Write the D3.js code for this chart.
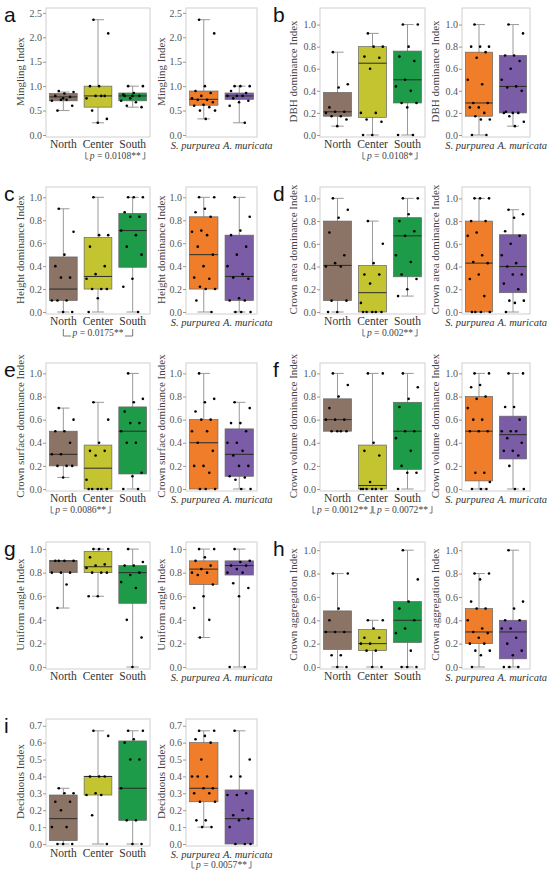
<!DOCTYPE html>
<html>
<head>
<meta charset="utf-8">
<script src="https://cdn.jsdelivr.net/npm/d3@7"></script>
<style>
  html, body { margin: 0; padding: 0; background: #fff; }
  svg { display: block; }
  .tick-lab { font-family: "Liberation Serif", serif; font-size: 10px; fill: #555; }
  .x-lab { font-family: "Liberation Serif", serif; font-size: 11.5px; fill: #333; }
  .y-lab { font-family: "Liberation Serif", serif; font-size: 11px; fill: #444; }
  .p-lab { font-family: "Liberation Serif", serif; font-size: 9.6px; fill: #444; }
  .letter { font-family: "Liberation Sans", sans-serif; font-size: 21px; fill: #111; }
</style>
</head>
<body>
<svg id="chart" width="550" height="873" font-family="Liberation Serif, serif"></svg>
<script>
// ---- data ----
const regions = ['North', 'Center', 'South'];
const species = ['S. purpurea', 'A. muricata'];
const letters = ['a', 'b', 'c', 'd', 'e', 'f', 'g', 'h', 'i'];
const indexNames = ['Mingling Index', 'DBH dominance Index', 'Height dominance Index',
  'Crown area dominance Index', 'Crown surface dominance Index', 'Crown volume dominance Index',
  'Uniform angle Index', 'Crown aggregation Index', 'Deciduous Index'];
const yTops = [2.6, 1.15, 1.09, 1.1, 1.09, 1.09, 1.06, 1.07, 0.74];
const ticksMingling = [0, 0.5, 1.0, 1.5, 2.0, 2.5];
const ticksUnit = [0, 0.2, 0.4, 0.6, 0.8, 1.0];
const ticksDeciduous = [0, 0.1, 0.2, 0.3, 0.4, 0.5, 0.6, 0.7];

// box stats per group: [whisker low, q1, median, q3, whisker high]; North, Center, South, S. purpurea, A. muricata
const minglingStats = [[0.5, 0.7, 0.78, 0.85, 0.88], [0.25, 0.57, 0.8, 1.0, 2.36], [0.57, 0.7, 0.8, 0.86, 1.0], [0.33, 0.61, 0.73, 0.9, 2.36], [0.25, 0.73, 0.8, 0.86, 1.0]];
const dbhStats = [[0.08, 0.17, 0.21, 0.385, 0.75], [0, 0.16, 0.65, 0.8, 0.92], [0, 0.29, 0.5, 0.76, 1.0], [0, 0.17, 0.29, 0.75, 1.0], [0.08, 0.2, 0.44, 0.72, 1.0]];
const heightStats = [[0, 0.1, 0.2, 0.48, 0.9], [0, 0.2, 0.31, 0.65, 1.0], [0, 0.39, 0.71, 0.86, 1.0], [0, 0.2, 0.5, 0.83, 1.0], [0, 0.1, 0.31, 0.67, 1.0]];
const areaStats = [[0, 0.1, 0.41, 0.8, 1.0], [0, 0, 0.17, 0.41, 0.8], [0.14, 0.31, 0.67, 0.83, 1.0], [0, 0, 0.43, 0.8, 1.0], [0, 0.17, 0.4, 0.68, 0.9]];
const surfaceStats = [[0.1, 0.2, 0.3, 0.5, 0.7], [0, 0, 0.18, 0.38, 0.75], [0, 0.13, 0.5, 0.71, 1.0], [0, 0, 0.4, 0.6, 1.0], [0, 0.11, 0.3, 0.52, 0.75]];
const volumeStats = [[0.5, 0.5, 0.6, 0.78, 1.0], [0, 0, 0.03, 0.38, 1.0], [0, 0.17, 0.5, 0.75, 1.0], [0, 0.07, 0.5, 0.8, 1.0], [0, 0.26, 0.47, 0.63, 1.0]];
const angleStats = [[0.5, 0.8, 0.9, 0.9, 0.9], [0.6, 0.8, 0.85, 0.98, 1.0], [0, 0.54, 0.8, 0.86, 1.0], [0.25, 0.7, 0.83, 0.9, 1.0], [0, 0.78, 0.86, 0.9, 1.0]];
const aggregationStats = [[0, 0.15, 0.3, 0.48, 0.8], [0, 0.14, 0.2, 0.32, 0.4], [0, 0.21, 0.4, 0.56, 1.0], [0, 0.2, 0.3, 0.5, 0.8], [0, 0.07, 0.3, 0.4, 1.0]];
const deciduousStats = [[0, 0.02, 0.15, 0.29, 0.33], [0, 0.29, 0.4, 0.4, 0.67], [0, 0.14, 0.33, 0.61, 0.67], [0.1, 0.25, 0.33, 0.6, 0.67], [0, 0, 0.15, 0.32, 0.67]];

// sampled plot values per group
const minglingPts = [
  [0.9, 0.88, 0.85, 0.8, 0.78, 0.72, 0.7, 0.72, 0.5, 0.6, 0.75],
  [2.36, 2.08, 1.0, 1.0, 0.8, 0.8, 0.75, 0.8, 0.5, 0.33, 0.25],
  [1.0, 1.0, 0.86, 0.8, 0.8, 0.75, 0.7, 0.67, 0.6, 0.57, 0.8, 0.83],
  [2.36, 2.08, 1.0, 0.9, 0.86, 0.8, 0.75, 0.72, 0.72, 0.67, 0.62, 0.6, 0.57, 0.5, 0.5, 0.33],
  [1.0, 1.0, 1.0, 0.9, 0.86, 0.8, 0.8, 0.8, 0.75, 0.7, 0.67, 0.6, 0.25]];
const dbhPts = [
  [0.75, 0.46, 0.43, 0.25, 0.21, 0.21, 0.2, 0.17, 0.17, 0.14, 0.08],
  [0.92, 0.8, 0.8, 0.71, 0.7, 0.6, 0.2, 0.2, 0.14, 0.12, 0, 0],
  [1.0, 1.0, 0.8, 0.71, 0.67, 0.5, 0.44, 0.4, 0.29, 0.29, 0.25, 0, 0],
  [1.0, 0.8, 0.8, 0.8, 0.75, 0.7, 0.5, 0.46, 0.29, 0.29, 0.25, 0.25, 0.2, 0.17, 0.14, 0.14, 0, 0],
  [1.0, 0.92, 0.72, 0.72, 0.67, 0.6, 0.5, 0.44, 0.43, 0.4, 0.2, 0.2, 0.2, 0.17, 0.12, 0.08, 0.21]];
const heightPts = [
  [0.9, 0.7, 0.5, 0.4, 0.3, 0.3, 0.1, 0.1, 0.1, 0, 0],
  [1.0, 0.67, 0.67, 0.57, 0.4, 0.33, 0.29, 0.2, 0.2, 0.2, 0.12, 0],
  [1.0, 1.0, 1.0, 0.87, 0.83, 0.83, 0.71, 0.67, 0.57, 0.5, 0.29, 0.22, 0],
  [1.0, 1.0, 0.9, 0.87, 0.83, 0.71, 0.7, 0.67, 0.57, 0.5, 0.4, 0.3, 0.29, 0.22, 0.2, 0.2, 0.1, 0],
  [1.0, 0.83, 0.71, 0.67, 0.57, 0.5, 0.4, 0.33, 0.3, 0.29, 0.12, 0.1, 0.1, 0, 0, 0]];
const areaPts = [
  [1.0, 0.9, 0.83, 0.7, 0.5, 0.43, 0.4, 0.4, 0.1, 0.1, 0, 0],
  [0.8, 0.6, 0.43, 0.33, 0.33, 0.25, 0.08, 0, 0, 0, 0, 0],
  [1.0, 1.0, 0.86, 0.8, 0.71, 0.67, 0.5, 0.44, 0.33, 0.29, 0.2, 0.14],
  [1.0, 1.0, 1.0, 0.8, 0.8, 0.7, 0.67, 0.5, 0.44, 0.43, 0.33, 0.29, 0.14, 0, 0, 0, 0],
  [0.9, 0.86, 0.83, 0.71, 0.67, 0.6, 0.5, 0.43, 0.4, 0.33, 0.33, 0.25, 0.2, 0.1, 0.1, 0.08, 0]];
const surfacePts = [
  [0.7, 0.6, 0.5, 0.5, 0.4, 0.3, 0.3, 0.2, 0.2, 0.2, 0.1],
  [0.75, 0.6, 0.4, 0.33, 0.33, 0.29, 0.08, 0, 0, 0, 0, 0],
  [1.0, 0.78, 0.75, 0.67, 0.57, 0.57, 0.5, 0.4, 0.4, 0.14, 0.11, 0, 0],
  [1.0, 0.78, 0.75, 0.67, 0.6, 0.6, 0.5, 0.5, 0.4, 0.33, 0.2, 0.2, 0.14, 0, 0, 0],
  [0.75, 0.7, 0.57, 0.57, 0.5, 0.4, 0.4, 0.33, 0.29, 0.2, 0.2, 0.11, 0.1, 0.08, 0, 0]];
const volumePts = [
  [1.0, 0.9, 0.8, 0.7, 0.6, 0.6, 0.6, 0.5, 0.5, 0.5, 0.5],
  [1.0, 1.0, 0.4, 0.33, 0.29, 0.06, 0, 0, 0, 0, 0, 0],
  [1.0, 0.88, 0.78, 0.71, 0.5, 0.5, 0.44, 0.33, 0.2, 0.14, 0.14, 0],
  [1.0, 1.0, 0.9, 0.88, 0.8, 0.78, 0.7, 0.6, 0.6, 0.5, 0.5, 0.5, 0.14, 0.14, 0.06, 0, 0, 0],
  [1.0, 1.0, 0.71, 0.71, 0.6, 0.5, 0.5, 0.5, 0.44, 0.4, 0.33, 0.33, 0.29, 0.2, 0, 0]];
const anglePts = [
  [0.9, 0.9, 0.9, 0.9, 0.8, 0.8, 0.8, 0.7, 0.5],
  [1.0, 1.0, 1.0, 0.93, 0.87, 0.86, 0.84, 0.8, 0.8, 0.8, 0.6, 0.6],
  [1.0, 0.89, 0.86, 0.86, 0.8, 0.78, 0.72, 0.67, 0.4, 0.25, 0],
  [1.0, 1.0, 0.93, 0.9, 0.86, 0.83, 0.8, 0.8, 0.78, 0.7, 0.6, 0.5, 0.4, 0.25],
  [1.0, 0.9, 0.89, 0.86, 0.86, 0.83, 0.8, 0.8, 0.71, 0.67, 0.6, 0, 0]];
const aggregationPts = [
  [0.8, 0.8, 0.5, 0.4, 0.3, 0.3, 0.3, 0.1, 0.1, 0, 0],
  [0.4, 0.4, 0.33, 0.25, 0.25, 0.2, 0.2, 0.14, 0.14, 0, 0],
  [1.0, 0.75, 0.56, 0.5, 0.4, 0.33, 0.29, 0.14, 0, 0, 0],
  [0.8, 0.8, 0.75, 0.56, 0.5, 0.5, 0.4, 0.33, 0.3, 0.29, 0.25, 0.2, 0.2, 0.14, 0.14, 0.1, 0],
  [1.0, 0.56, 0.5, 0.4, 0.4, 0.33, 0.33, 0.25, 0.2, 0.14, 0.1, 0, 0, 0]];
const deciduousPts = [
  [0.33, 0.3, 0.3, 0.25, 0.25, 0.2, 0.1, 0.1, 0, 0, 0],
  [0.67, 0.64, 0.4, 0.4, 0.4, 0.3, 0.29, 0.29, 0.17, 0],
  [0.67, 0.67, 0.62, 0.6, 0.5, 0.5, 0.33, 0.14, 0.14, 0, 0],
  [0.67, 0.67, 0.64, 0.62, 0.6, 0.5, 0.4, 0.4, 0.4, 0.33, 0.33, 0.3, 0.3, 0.25, 0.25, 0.14, 0.14, 0.1, 0.1],
  [0.67, 0.5, 0.4, 0.4, 0.3, 0.29, 0.29, 0.2, 0.17, 0.15, 0.14, 0.1, 0, 0, 0]];

// significance brackets: [index, first group, second group, label]
const pTests = [
  [0, 'Center', 'South', '0.0108**'],
  [1, 'Center', 'South', '0.0108*'],
  [2, 'North', 'South', '0.0175**'],
  [3, 'Center', 'South', '0.002**'],
  [4, 'North', 'Center', '0.0086**'],
  [5, 'North', 'Center', '0.0012**'],
  [5, 'Center', 'South', '0.0072**'],
  [8, 'S. purpurea', 'A. muricata', '0.0057** ']
];

// ---- layout ----
const allStats = [minglingStats, dbhStats, heightStats, areaStats, surfaceStats, volumeStats, angleStats, aggregationStats, deciduousStats];
const allPts = [minglingPts, dbhPts, heightPts, areaPts, surfacePts, volumePts, anglePts, aggregationPts, deciduousPts];
const allTicks = [ticksMingling, ticksUnit, ticksUnit, ticksUnit, ticksUnit, ticksUnit, ticksUnit, ticksUnit, ticksDeciduous];
const regionColors = ['#8b7366', '#c4c430', '#1d9b49'];
const speciesColors = ['#f07d2a', '#7b5ca7'];

const rowTop = [8, 187, 363, 542, 719];
const rowZero = [135, 312, 489, 667, 844];
const colX = [
  { p1: [46, 150], p2: [186, 257], letter: 4, yl1: 21, yl2: 162 },
  { p1: [320, 425], p2: [462, 530], letter: 273, yl1: 294, yl2: 436 }
];

const svg = d3.select('#chart');

// deterministic spread of points across the box
const spread = (i, bw) => (((i * 0.6180339 + 0.31) % 1) - 0.5) * bw * 0.86;

function drawPanel(k, groups, colors, xr, top, zero, ylx, stats, pts, pList) {
  const x = d3.scaleBand().domain(groups).range(xr).paddingInner(0.2).paddingOuter(0.1);
  const y = d3.scaleLinear().domain([0, yTops[k]]).range([zero, top]);
  const bw = x.bandwidth();
  const g = svg.append('g');
  const isSpecies = groups === species;

  g.append('rect').attr('x', xr[0]).attr('y', top).attr('width', xr[1] - xr[0]).attr('height', zero + 2 - top)
    .attr('fill', 'none').attr('stroke', '#d0d0d0').attr('stroke-width', 1);

  const yAxis = d3.axisLeft(y).tickValues(allTicks[k]).tickSize(3).tickPadding(1)
    .tickFormat(d3.format('.1f'));
  const ya = g.append('g').attr('transform', `translate(${xr[0]},0)`).call(yAxis);
  ya.attr('font-family', null).attr('font-size', null);
  ya.select('.domain').remove();
  ya.selectAll('line').attr('stroke', '#999');
  ya.selectAll('text').attr('class', 'tick-lab').attr('fill', null);

  g.append('text').attr('class', 'y-lab')
    .attr('transform', `translate(${ylx},${(top + zero) / 2}) rotate(-90)`)
    .attr('text-anchor', 'middle').attr('dominant-baseline', 'middle')
    .text(indexNames[k]);

  groups.forEach((name, j) => {
    const [lo, q1, med, q3, hi] = stats[j];
    const cx = x(name) + bw / 2;
    g.append('line').attr('x1', cx).attr('x2', cx).attr('y1', y(lo)).attr('y2', y(hi))
      .attr('stroke', '#999').attr('stroke-width', 1);
    [lo, hi].forEach(v => g.append('line').attr('x1', cx - bw * 0.22).attr('x2', cx + bw * 0.22)
      .attr('y1', y(v)).attr('y2', y(v)).attr('stroke', '#999'));
    g.append('rect').attr('x', x(name)).attr('width', bw).attr('y', y(q3)).attr('height', Math.max(0.8, y(q1) - y(q3)))
      .attr('fill', colors[j]).attr('stroke', '#666').attr('stroke-width', 0.7);
    g.append('line').attr('x1', x(name)).attr('x2', x(name) + bw).attr('y1', y(med)).attr('y2', y(med))
      .attr('stroke', '#2a2a2a').attr('stroke-width', 1);
    g.selectAll(null).data(pts[j]).join('circle')
      .attr('cx', (d, i) => cx + spread(i, bw)).attr('cy', d => y(d)).attr('r', 1.3).attr('fill', '#000');

    const lab = g.append('text').attr('class', 'x-lab');
    if (isSpecies) {
      // the two italic names are wider than their boxes: push them apart around the gap
      const gap = (x(groups[0]) + bw + x(groups[1])) / 2;
      lab.attr('x', j === 0 ? gap - 1.5 : gap + 1.5).attr('y', zero + 14)
        .attr('text-anchor', j === 0 ? 'end' : 'start')
        .style('font-style', 'italic').style('font-size', '10.5px');
    } else {
      lab.attr('x', cx).attr('y', zero + 13).attr('text-anchor', 'middle');
    }
    lab.text(name);
  });

  // significance brackets, pushed apart when they collide
  const yb = zero + 24;
  const items = pList.map(([, a, b, label]) => {
    const xa = x(a) + bw / 2, xb = x(b) + bw / 2;
    const t = g.append('text').attr('class', 'p-lab').attr('y', yb).attr('text-anchor', 'middle');
    t.append('tspan').style('font-style', 'italic').text('p');
    t.append('tspan').text(' = ' + label);
    const tw = t.node().getComputedTextLength();
    return { xa, xb, t, tw, mid: (xa + xb) / 2, half: tw / 2 + 4, shifted: false };
  }).sort((p, q) => p.mid - q.mid);
  for (let i = 1; i < items.length; i++) {
    const p = items[i - 1], q = items[i];
    const over = (p.mid + p.half) - (q.mid - q.half) + 1;
    if (over > 0) { p.mid -= over / 2; q.mid += over / 2; p.shifted = q.shifted = true; }
  }
  const seg = (x1, y1, x2, y2) => g.append('line').attr('x1', x1).attr('y1', y1).attr('x2', x2).attr('y2', y2)
    .attr('stroke', '#555').attr('stroke-width', 0.8);
  items.forEach(it => {
    it.t.attr('x', it.mid);
    const l = it.shifted ? it.mid - it.half : Math.min(it.xa, it.mid - it.half);
    const r = it.shifted ? it.mid + it.half : Math.max(it.xb, it.mid + it.half);
    seg(l, yb - 7, l, yb);
    seg(r, yb - 7, r, yb);
    seg(l, yb, it.mid - it.tw / 2 - 1.5, yb);
    seg(it.mid + it.tw / 2 + 1.5, yb, r, yb);
  });
}

letters.forEach((letter, k) => {
  const row = Math.floor(k / 2), col = k % 2;
  const c = colX[col];
  const top = rowTop[row], zero = rowZero[row];
  svg.append('text').attr('class', 'letter').attr('x', c.letter).attr('y', top + 14).text(letter);
  const tests = pTests.filter(p => p[0] === k);
  drawPanel(k, regions, regionColors, c.p1, top, zero, c.yl1,
    allStats[k].slice(0, 3), allPts[k].slice(0, 3), tests.filter(p => regions.includes(p[1])));
  drawPanel(k, species, speciesColors, c.p2, top, zero, c.yl2,
    allStats[k].slice(3), allPts[k].slice(3), tests.filter(p => species.includes(p[1])));
});
</script>
</body>
</html>
